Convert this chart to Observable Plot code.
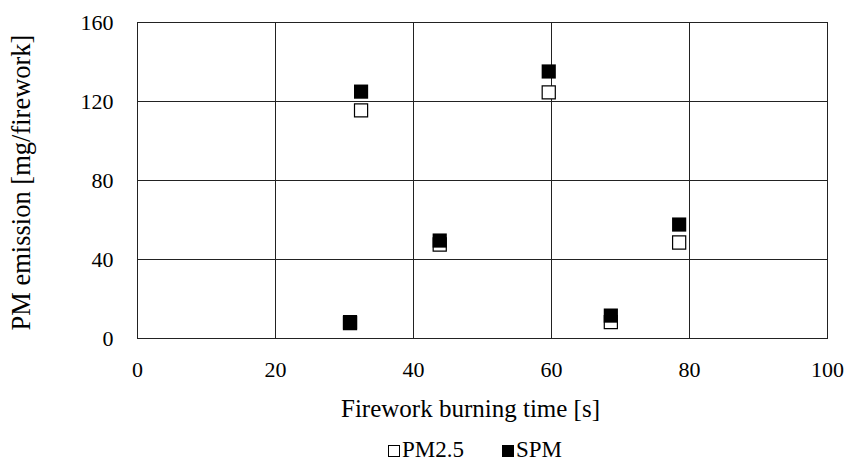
<!DOCTYPE html>
<html>
<head>
<meta charset="utf-8">
<script src="https://cdn.jsdelivr.net/npm/d3@7"></script>
<script src="https://cdn.jsdelivr.net/npm/@observablehq/plot@0.6"></script>
<style>
  html, body { margin: 0; padding: 0; background: #fff; }
  body { width: 846px; height: 463px; position: relative; overflow: hidden; font-family: "Liberation Serif", serif; }
  svg, svg text { font-family: "Liberation Serif", serif !important; }
  #legend { position: absolute; left: 388px; top: 437px; font-size: 23px; line-height: normal; color: #000; white-space: nowrap; font-family: "Liberation Serif", serif; }
  #legend .item { display: inline-flex; align-items: center; }
  #legend .sw { display: inline-block; width: 12px; height: 12px; box-sizing: border-box; margin-right: 2px; margin-top: 2px; }
  #legend .open { border: 1px solid #000; background: #fff; }
  #legend .filled { background: #000; }
</style>
</head>
<body>
<div id="chart"></div>
<div id="legend"></div>
<script>
// Data
const burningTime = [30.8, 32.4, 43.8, 59.6, 68.6, 78.5];
const pm25 = [7.8, 115.5, 47.6, 124.6, 8.3, 48.6];
const spm = [8.3, 125.0, 49.6, 135.2, 11.6, 57.7];
const xTicks = [0, 20, 40, 60, 80, 100];
const yTicks = [0, 40, 80, 120, 160];
const xGrid = [20, 40, 60, 80];
const yGrid = [40, 80, 120];
const seriesNames = ["PM2.5", "SPM"];
const xLabel = "Firework burning time [s]";
const yLabel = "PM emission [mg/firework]";

const pmData = burningTime.map((t, i) => ({t, v: pm25[i]}));
const spmData = burningTime.map((t, i) => ({t, v: spm[i]}));
const serif = '"Liberation Serif", serif';

const chart = Plot.plot({
  width: 846,
  height: 436,
  marginLeft: 137,
  marginRight: 19,
  marginTop: 22,
  marginBottom: 98,
  style: {fontFamily: serif, fontSize: "22px", color: "#000", background: "#fff"},
  x: {domain: [0, 100]},
  y: {domain: [0, 160]},
  marks: [
    Plot.gridX(xGrid, {stroke: "#222", strokeOpacity: 1, strokeWidth: 1}),
    Plot.gridY(yGrid, {stroke: "#222", strokeOpacity: 1, strokeWidth: 1}),
    Plot.frame({stroke: "#222", strokeWidth: 1}),
    Plot.axisX(xTicks, {tickSize: 0, tickPadding: 23, label: null, fontSize: 22, fontFamily: serif}),
    Plot.axisY(yTicks, {tickSize: 0, tickPadding: 24, label: null, fontSize: 22, fontFamily: serif}),
    Plot.text([xLabel], {frameAnchor: "bottom", dx: -12, dy: 70, fontSize: 25, fontFamily: serif, textAnchor: "middle", lineAnchor: "middle", text: d => d}),
    Plot.text([yLabel], {frameAnchor: "left", rotate: -90, dx: -116, dy: 2, fontSize: 26.5, fontFamily: serif, textAnchor: "middle", lineAnchor: "middle", text: d => d}),
    Plot.dot(pmData, {x: "t", y: "v", symbol: "square", r: 7.4, fill: "#fff", stroke: "#000", strokeWidth: 1.2}),
    Plot.dot(spmData, {x: "t", y: "v", symbol: "square", r: 8.0, fill: "#000", stroke: "none"})
  ]
});
document.getElementById("chart").appendChild(chart);

const legend = document.getElementById("legend");
legend.innerHTML =
  `<span class="item"><span class="sw open"></span>${seriesNames[0]}</span>` +
  `<span class="item" style="margin-left:38px"><span class="sw filled"></span>${seriesNames[1]}</span>`;
</script>
</body>
</html>
